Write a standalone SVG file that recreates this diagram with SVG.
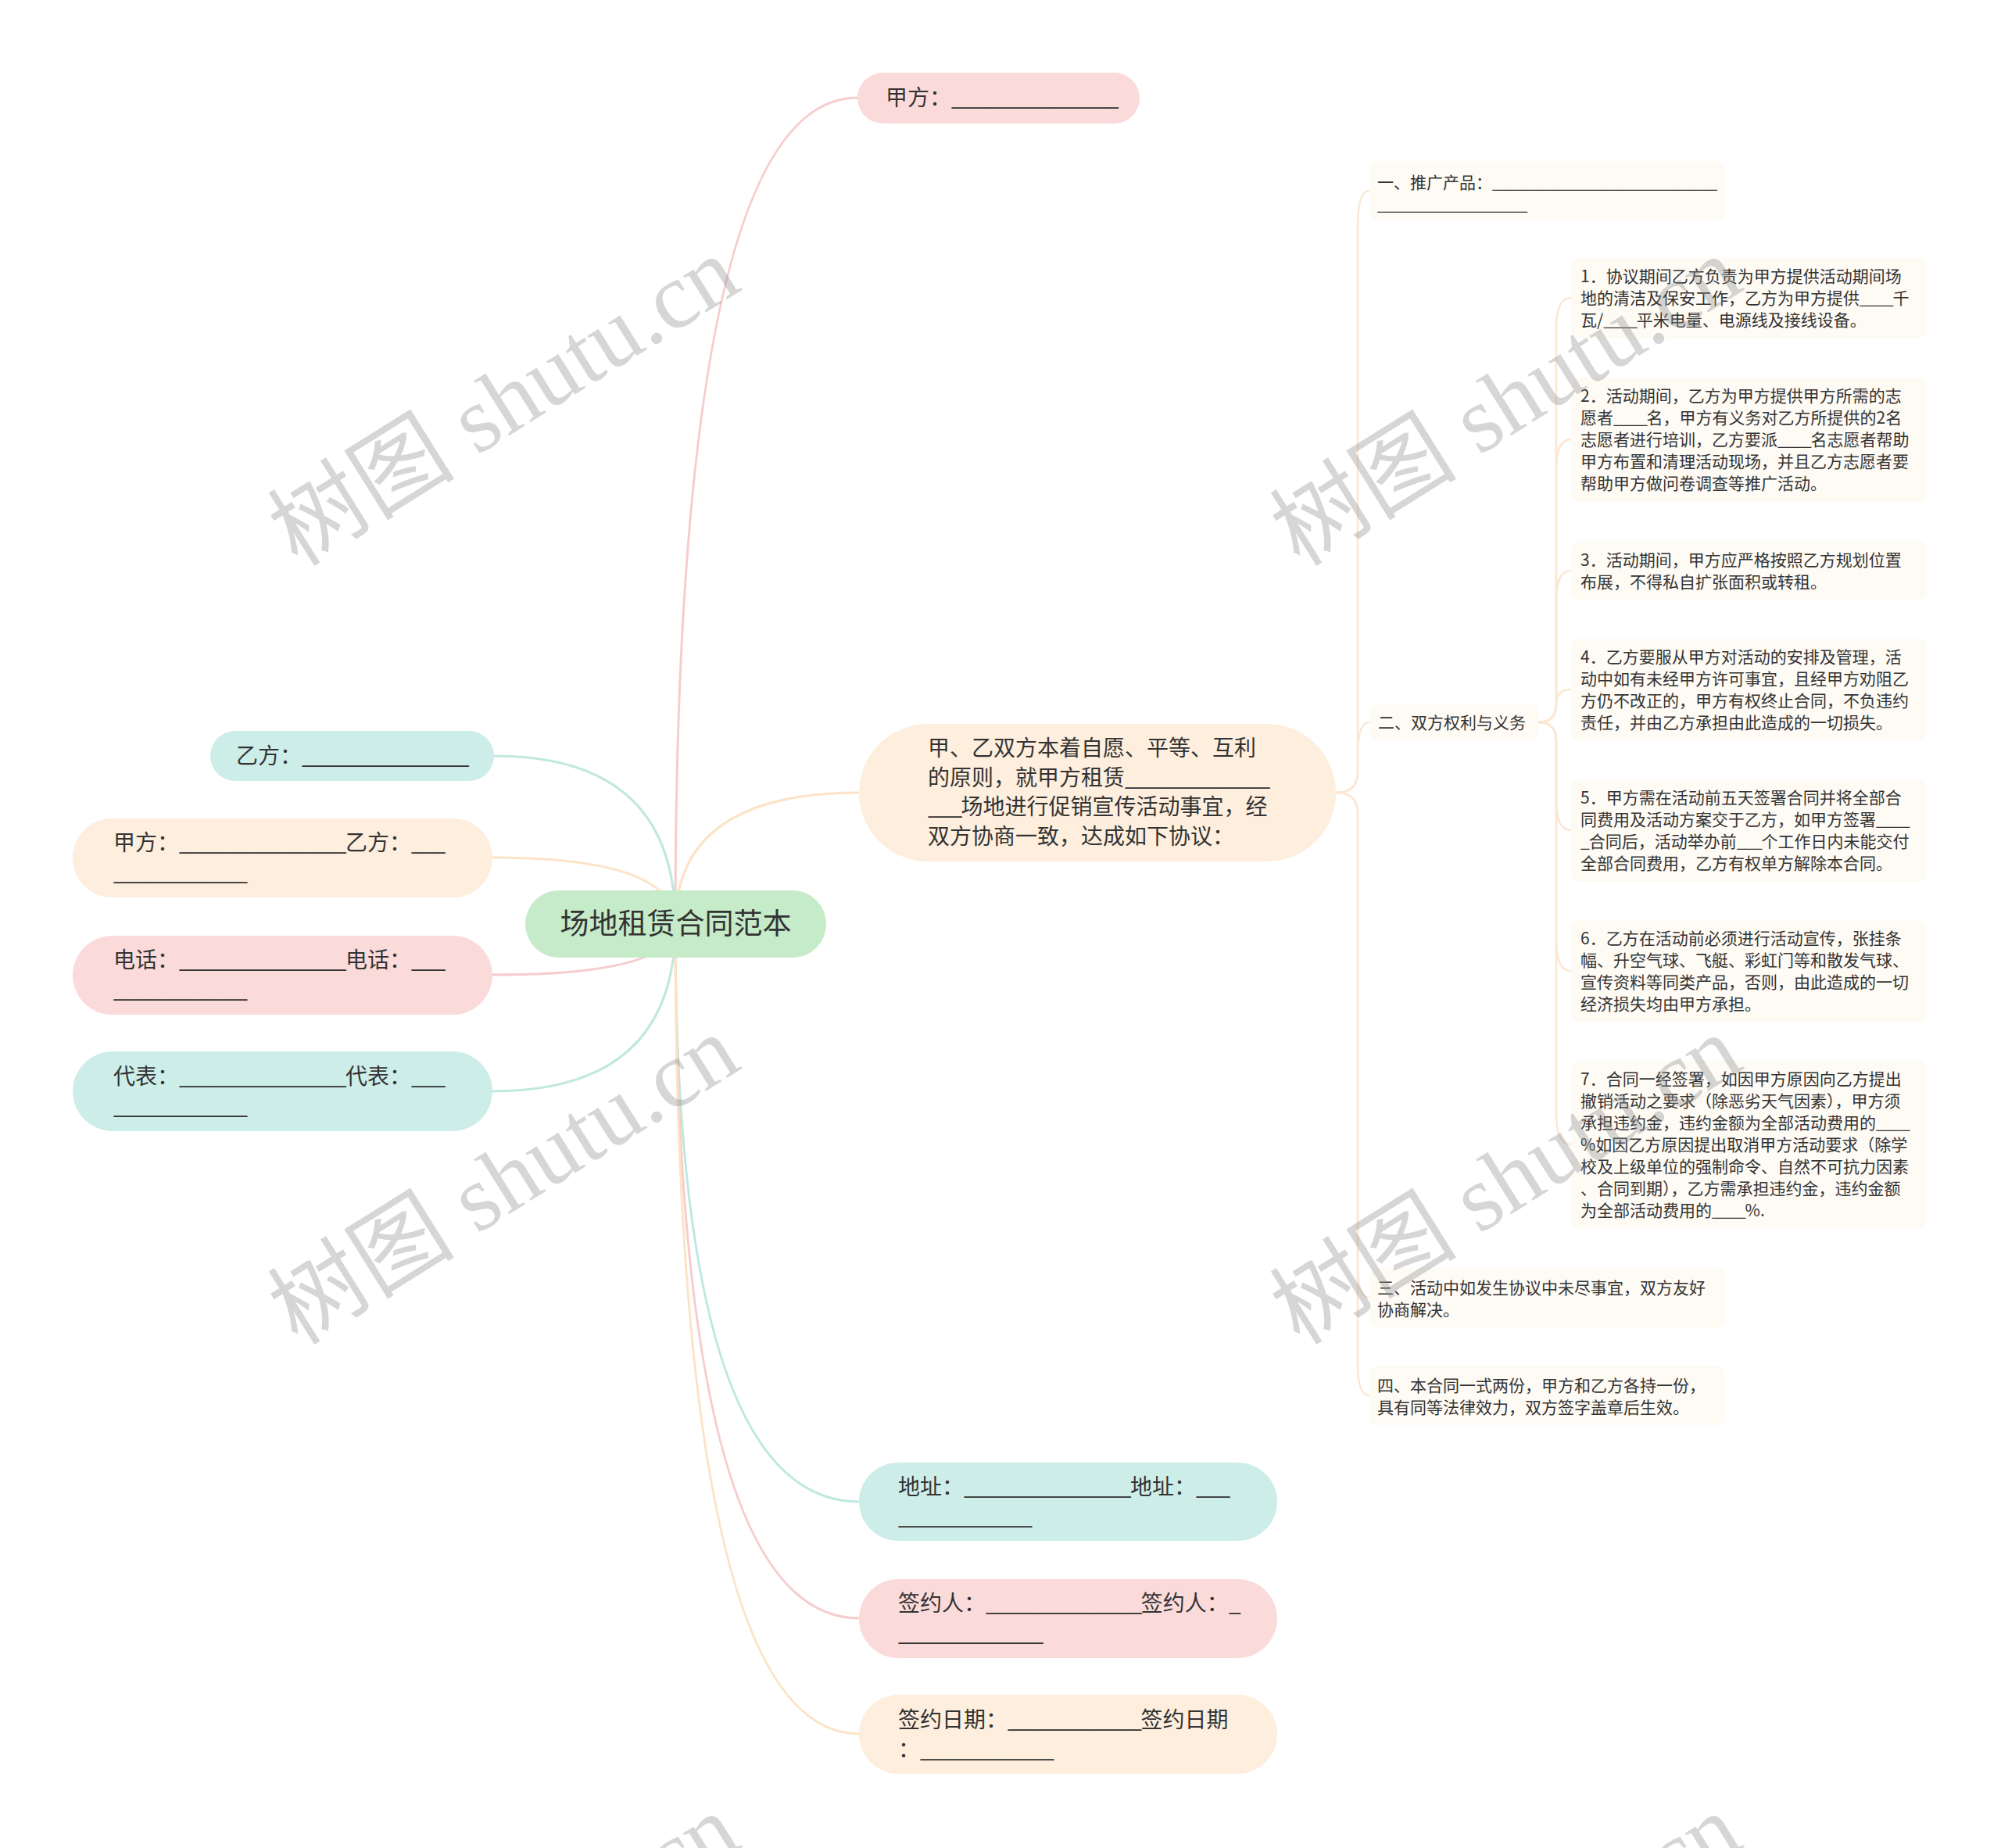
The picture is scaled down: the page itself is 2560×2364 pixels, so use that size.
<svg xmlns="http://www.w3.org/2000/svg" width="2560" height="2364" viewBox="0 0 2560 2364">
<style>
text{font-family:"Noto Sans CJK SC","Noto Sans",sans-serif;fill:#333}
.t1{font-size:28px}
.t2{font-size:21px}
.t1 .u{letter-spacing:-1.45px}
.t2 .u{letter-spacing:-1.1px}
.root{font-size:37px}
.pink{fill:#fbdada}
.peach{fill:#fdeedd}
.teal{fill:#cdeee8}
.green{fill:#c6ebc9}
.sub{fill:#fefaf4}
.lp{fill:none;stroke:#f6cccc;stroke-width:3}
.lo{fill:none;stroke:#fde3c6;stroke-width:3}
.lt{fill:none;stroke:#bfe8df;stroke-width:3}
.ls{fill:none;stroke:#fbe7d2;stroke-width:2.5}
.wm{font-family:"Liberation Serif","Noto Sans CJK SC",serif;font-size:120px;fill:#8c8c8c;fill-opacity:0.36}
</style>
<rect width="2560" height="2364" fill="#ffffff"/>
<g id="connectors">
<path class="lp" d="M864 1182 Q864 125 1097 125"/>
<path class="lo" d="M864 1182 Q864 1014 1099 1014"/>
<path class="lt" d="M864 1182 Q864 967 632 967"/>
<path class="lo" d="M864 1182 Q864 1097 630 1097"/>
<path class="lp" d="M864 1182 Q864 1247 630 1247"/>
<path class="lt" d="M864 1182 Q864 1396 630 1396"/>
<path class="lt" d="M864 1182 Q864 1921 1099 1921"/>
<path class="lp" d="M864 1182 Q864 2070 1099 2070"/>
<path class="lo" d="M864 1182 Q864 2218 1099 2218"/>
<path class="ls" d="M1709 1014 Q1737 1014 1737 988 V290 Q1737 244 1752 244"/>
<path class="ls" d="M1709 1014 Q1737 1014 1737 988 V964 Q1737 924 1752 924"/>
<path class="ls" d="M1709 1014 Q1737 1014 1737 1040 V1620 Q1737 1660 1752 1660"/>
<path class="ls" d="M1709 1014 Q1737 1014 1737 1040 V1745 Q1737 1785 1752 1785"/>
<path class="ls" d="M1968 924 Q1991 924 1991 900 V420 Q1991 381 2010 381"/>
<path class="ls" d="M1968 924 Q1991 924 1991 900 V600 Q1991 562 2010 562"/>
<path class="ls" d="M1968 924 Q1991 924 1991 900 V768 Q1991 730 2010 730"/>
<path class="ls" d="M1968 924 Q1991 924 1991 900 Q1991 882 2010 882"/>
<path class="ls" d="M1968 924 Q1991 924 1991 948 V1024 Q1991 1062 2010 1062"/>
<path class="ls" d="M1968 924 Q1991 924 1991 948 V1204 Q1991 1242 2010 1242"/>
<path class="ls" d="M1968 924 Q1991 924 1991 948 V1426 Q1991 1464 2010 1464"/>
</g>
<g id="root">
<rect class="green" x="672" y="1139" width="385" height="86" rx="43"/>
<text class="root" x="864.5" y="1195" text-anchor="middle">场地租赁合同范本</text>
</g>
<g id="n-jiafang-top">
<rect class="pink" x="1097" y="93" width="361" height="65" rx="32.5"/>
<text class="t1" x="1133" y="135">甲方：<tspan class="u">_______________</tspan></text>
</g>
<g id="n-main">
<rect class="peach" x="1099" y="926" width="610" height="176" rx="88"/>
<text class="t1"><tspan x="1187" y="967">甲、乙双方本着自愿、平等、互利</tspan><tspan x="1187" y="1004.5">的原则，就甲方租赁<tspan class="u">_____________</tspan></tspan><tspan x="1187" y="1042"><tspan class="u">___</tspan>场地进行促销宣传活动事宜，经</tspan><tspan x="1187" y="1079.5">双方协商一致，达成如下协议：</tspan></text>
</g>
<g id="n-yifang">
<rect class="teal" x="269" y="935" width="363" height="64" rx="32"/>
<text class="t1" x="302" y="977">乙方：<tspan class="u">_______________</tspan></text>
</g>
<g id="n-jia-yi">
<rect class="peach" x="93" y="1047" width="537" height="101" rx="50.5"/>
<text class="t1"><tspan x="145" y="1088">甲方：<tspan class="u">_______________</tspan>乙方：<tspan class="u">___</tspan></tspan><tspan x="145" y="1126" class="u">____________</tspan></text>
</g>
<g id="n-phone">
<rect class="pink" x="93" y="1197" width="537" height="101" rx="50.5"/>
<text class="t1"><tspan x="145" y="1238">电话：<tspan class="u">_______________</tspan>电话：<tspan class="u">___</tspan></tspan><tspan x="145" y="1276" class="u">____________</tspan></text>
</g>
<g id="n-rep">
<rect class="teal" x="93" y="1345" width="537" height="102" rx="51"/>
<text class="t1"><tspan x="145" y="1387">代表：<tspan class="u">_______________</tspan>代表：<tspan class="u">___</tspan></tspan><tspan x="145" y="1425" class="u">____________</tspan></text>
</g>
<g id="n-addr">
<rect class="teal" x="1099" y="1871" width="535" height="100" rx="50"/>
<text class="t1"><tspan x="1149" y="1912">地址：<tspan class="u">_______________</tspan>地址：<tspan class="u">___</tspan></tspan><tspan x="1149" y="1950" class="u">____________</tspan></text>
</g>
<g id="n-signer">
<rect class="pink" x="1099" y="2020" width="535" height="101" rx="50.5"/>
<text class="t1"><tspan x="1149" y="2061">签约人：<tspan class="u">______________</tspan>签约人：<tspan class="u">_</tspan></tspan><tspan x="1149" y="2099" class="u">_____________</tspan></text>
</g>
<g id="n-date">
<rect class="peach" x="1099" y="2168" width="535" height="101" rx="50.5"/>
<text class="t1"><tspan x="1149" y="2210">签约日期：<tspan class="u">____________</tspan>签约日期</tspan><tspan x="1149" y="2248">：<tspan class="u">____________</tspan></tspan></text>
</g>
<g id="n-s1">
<rect class="sub" x="1752" y="206" width="455" height="76" rx="10"/>
<text class="t2"><tspan x="1762" y="241">一、推广产品：<tspan class="u">___________________________</tspan></tspan><tspan x="1762" y="269" class="u">__________________</tspan></text>
</g>
<g id="n-s2">
<rect class="sub" x="1752" y="900" width="216" height="48" rx="10"/>
<text class="t2" x="1763" y="932">二、双方权利与义务</text>
</g>
<g id="n-s3">
<rect class="sub" x="1752" y="1622" width="455" height="76" rx="10"/>
<text class="t2"><tspan x="1762" y="1655">三、活动中如发生协议中未尽事宜，双方友好</tspan><tspan x="1762" y="1683">协商解决。</tspan></text>
</g>
<g id="n-s4">
<rect class="sub" x="1752" y="1747" width="455" height="76" rx="10"/>
<text class="t2"><tspan x="1762" y="1780">四、本合同一式两份，甲方和乙方各持一份，</tspan><tspan x="1762" y="1808">具有同等法律效力，双方签字盖章后生效。</tspan></text>
</g>
<g id="n-r1">
<rect class="sub" x="2010" y="330" width="455" height="103" rx="10"/>
<text class="t2"><tspan x="2022" y="361">1．协议期间乙方负责为甲方提供活动期间场</tspan><tspan x="2022" y="389">地的清洁及保安工作，乙方为甲方提供<tspan class="u">____</tspan>千</tspan><tspan x="2022" y="417">瓦/<tspan class="u">____</tspan>平米电量、电源线及接线设备。</tspan></text>
</g>
<g id="n-r2">
<rect class="sub" x="2010" y="483" width="455" height="159" rx="10"/>
<text class="t2"><tspan x="2022" y="514">2．活动期间，乙方为甲方提供甲方所需的志</tspan><tspan x="2022" y="542">愿者<tspan class="u">____</tspan>名，甲方有义务对乙方所提供的2名</tspan><tspan x="2022" y="570">志愿者进行培训，乙方要派<tspan class="u">____</tspan>名志愿者帮助</tspan><tspan x="2022" y="598">甲方布置和清理活动现场，并且乙方志愿者要</tspan><tspan x="2022" y="626">帮助甲方做问卷调查等推广活动。</tspan></text>
</g>
<g id="n-r3">
<rect class="sub" x="2010" y="692" width="455" height="76" rx="10"/>
<text class="t2"><tspan x="2022" y="724">3．活动期间，甲方应严格按照乙方规划位置</tspan><tspan x="2022" y="752">布展，不得私自扩张面积或转租。</tspan></text>
</g>
<g id="n-r4">
<rect class="sub" x="2010" y="817" width="455" height="131" rx="10"/>
<text class="t2"><tspan x="2022" y="848">4．乙方要服从甲方对活动的安排及管理，活</tspan><tspan x="2022" y="876">动中如有未经甲方许可事宜，且经甲方劝阻乙</tspan><tspan x="2022" y="904">方仍不改正的，甲方有权终止合同，不负违约</tspan><tspan x="2022" y="932">责任，并由乙方承担由此造成的一切损失。</tspan></text>
</g>
<g id="n-r5">
<rect class="sub" x="2010" y="997" width="455" height="131" rx="10"/>
<text class="t2"><tspan x="2022" y="1028">5．甲方需在活动前五天签署合同并将全部合</tspan><tspan x="2022" y="1056">同费用及活动方案交于乙方，如甲方签署<tspan class="u">____</tspan></tspan><tspan x="2022" y="1084"><tspan class="u">_</tspan>合同后，活动举办前<tspan class="u">___</tspan>个工作日内未能交付</tspan><tspan x="2022" y="1112">全部合同费用，乙方有权单方解除本合同。</tspan></text>
</g>
<g id="n-r6">
<rect class="sub" x="2010" y="1177" width="455" height="131" rx="10"/>
<text class="t2"><tspan x="2022" y="1208">6．乙方在活动前必须进行活动宣传，张挂条</tspan><tspan x="2022" y="1236">幅、升空气球、飞艇、彩虹门等和散发气球、</tspan><tspan x="2022" y="1264">宣传资料等同类产品，否则，由此造成的一切</tspan><tspan x="2022" y="1292">经济损失均由甲方承担。</tspan></text>
</g>
<g id="n-r7">
<rect class="sub" x="2010" y="1357" width="455" height="215" rx="10"/>
<text class="t2"><tspan x="2022" y="1388">7．合同一经签署，如因甲方原因向乙方提出</tspan><tspan x="2022" y="1416">撤销活动之要求（除恶劣天气因素），甲方须</tspan><tspan x="2022" y="1444">承担违约金，违约金额为全部活动费用的<tspan class="u">____</tspan></tspan><tspan x="2022" y="1472">%如因乙方原因提出取消甲方活动要求（除学</tspan><tspan x="2022" y="1500">校及上级单位的强制命令、自然不可抗力因素</tspan><tspan x="2022" y="1528">、合同到期），乙方需承担违约金，违约金额</tspan><tspan x="2022" y="1556">为全部活动费用的<tspan class="u">____</tspan>%.</tspan></text>
</g>
<g id="watermarks">
<text class="wm" text-anchor="middle" transform="translate(645 514) rotate(-32)" y="40">树图 shutu.cn</text>
<text class="wm" text-anchor="middle" transform="translate(1927 514) rotate(-32)" y="40">树图 shutu.cn</text>
<text class="wm" text-anchor="middle" transform="translate(645 1510) rotate(-32)" y="40">树图 shutu.cn</text>
<text class="wm" text-anchor="middle" transform="translate(1927 1510) rotate(-32)" y="40">树图 shutu.cn</text>
<text class="wm" text-anchor="middle" transform="translate(645 2506) rotate(-32)" y="40">树图 shutu.cn</text>
<text class="wm" text-anchor="middle" transform="translate(1927 2506) rotate(-32)" y="40">树图 shutu.cn</text>
</g>
</svg>
